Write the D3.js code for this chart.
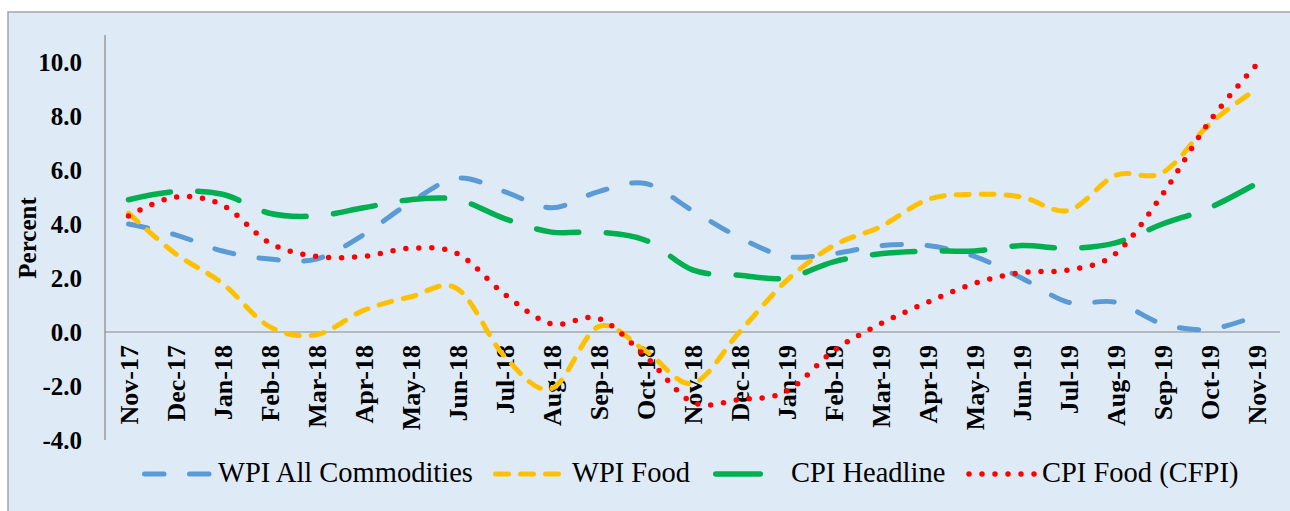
<!DOCTYPE html>
<meta charset="utf-8">
<style>
body { margin: 0; background: #fff; }
text { font-family: "Liberation Serif", "Times New Roman", serif; fill: #000; }
.tick-label { font-size: 25px; font-weight: bold; }
.xlab { font-size: 26px; }
.legend-label { font-size: 28.5px; }
</style>
<body>
<svg width="1290" height="511"></svg>
<script src="https://cdn.jsdelivr.net/npm/d3@7/dist/d3.min.js"></script>
<script>

var months = ["Nov-17","Dec-17","Jan-18","Feb-18","Mar-18","Apr-18","May-18","Jun-18","Jul-18","Aug-18",
	"Sep-18","Oct-18","Nov-18","Dec-18","Jan-19","Feb-19","Mar-19","Apr-19","May-19","Jun-19",
	"Jul-19","Aug-19","Sep-19","Oct-19","Nov-19"];

var wpiAll  = [4.0, 3.6, 3.0, 2.7, 2.7, 3.6, 4.8, 5.7, 5.2, 4.6, 5.2, 5.5, 4.5, 3.5, 2.8, 2.9, 3.2, 3.2, 2.8, 2.0, 1.1, 1.1, 0.3, 0.1, 0.6];
var wpiFood = [4.4, 2.9, 1.8, 0.2, -0.1, 0.8, 1.3, 1.6, -0.9, -2.1, 0.2, -0.7, -1.9, 0.0, 1.9, 3.2, 3.9, 4.9, 5.1, 5.0, 4.5, 5.8, 5.9, 7.7, 9.0];
var cpiHead = [4.9, 5.2, 5.1, 4.4, 4.3, 4.6, 4.9, 4.9, 4.2, 3.7, 3.7, 3.4, 2.3, 2.1, 2.0, 2.6, 2.9, 3.0, 3.0, 3.2, 3.1, 3.3, 4.0, 4.6, 5.5];
var cfpi    = [4.3, 5.0, 4.7, 3.3, 2.8, 2.8, 3.1, 2.9, 1.4, 0.3, 0.5, -0.9, -2.6, -2.5, -2.2, -0.7, 0.3, 1.1, 1.8, 2.2, 2.3, 2.9, 5.1, 7.8, 9.9];

var yTicks = [-4, -2, 0, 2, 4, 6, 8, 10];
var seriesNames = ["WPI All Commodities", "WPI Food", "CPI Headline", "CPI Food (CFPI)"];

// look of each series: colour, width, dash
var styles = [
	{color: "#5b9bd5", width: 5,   dash: "19.5,25.5"},
	{color: "#ffc000", width: 5,   dash: "13,12"},
	{color: "#00b050", width: 5.5, dash: "42.5,27.5"},
	{color: "#ff0000", width: 5.5, dash: "0,13"}
];
var allSeries = [wpiAll, wpiFood, cpiHead, cfpi];

var svg = d3.select("svg");

// chart frame
svg.append("rect")
	.attr("x", 8)
	.attr("y", 12)
	.attr("width", 1300)
	.attr("height", 520)
	.attr("fill", "#deebf7")
	.attr("stroke", "#a6a6a6")
	.attr("stroke-width", 1.5);

var x = d3.scaleBand()
	.domain(months)
	.range([105, 1280]);

var y = d3.scaleLinear()
	.domain([-4, 11])
	.range([440, 35]);

// y axis line and zero line
svg.append("line")
	.attr("x1", 105).attr("x2", 105)
	.attr("y1", y(11)).attr("y2", y(-4))
	.attr("stroke", "#878787").attr("stroke-width", 1.2);

svg.append("line")
	.attr("x1", 105).attr("x2", 1280)
	.attr("y1", y(0)).attr("y2", y(0))
	.attr("stroke", "#878787").attr("stroke-width", 1.2);

svg.selectAll(".ylab")
	.data(yTicks)
	.enter().append("text")
	.attr("class", "ylab tick-label")
	.attr("x", 82)
	.attr("y", function(d){ return y(d); })
	.attr("dy", "0.35em")
	.attr("text-anchor", "end")
	.text(function(d){ return d.toFixed(1); });

svg.selectAll(".xlab")
	.data(months)
	.enter().append("text")
	.attr("class", "xlab tick-label")
	.attr("text-anchor", "end")
	.attr("dy", "0.35em")
	.attr("transform", function(d){ return "translate(" + (x(d) + x.bandwidth()/2) + ",345) rotate(-90)"; })
	.text(function(d){ return d; });

svg.append("text")
	.attr("class", "tick-label")
	.attr("text-anchor", "middle")
	.attr("dy", "0.35em")
	.attr("transform", "translate(27,238) rotate(-90)")
	.text("Percent");

var line = d3.line()
	.x(function(d, i){ return x(months[i]) + x.bandwidth()/2; })
	.y(function(d){ return y(d); })
	.curve(d3.curveCardinal.tension(0));

allSeries.forEach(function(s, i){
	svg.append("path")
		.attr("d", line(s))
		.attr("fill", "none")
		.attr("stroke", styles[i].color)
		.attr("stroke-width", styles[i].width)
		.attr("stroke-dasharray", styles[i].dash)
		.attr("stroke-linecap", "round");
});

// legend
var legendItems = [
	{x1: 144.5, x2: 209.5, tx: 218},
	{x1: 495.5, x2: 560.5, tx: 572},
	{x1: 715.75, x2: 760.25, tx: 791},
	{x1: 969, x2: 1037, tx: 1042}
];

legendItems.forEach(function(it, i){
	svg.append("line")
		.attr("x1", it.x1).attr("x2", it.x2)
		.attr("y1", 474).attr("y2", 474)
		.attr("stroke", styles[i].color)
		.attr("stroke-width", styles[i].width)
		.attr("stroke-dasharray", i == 2 ? null : styles[i].dash)
		.attr("stroke-linecap", "round");
	svg.append("text")
		.attr("class", "legend-label")
		.attr("x", it.tx)
		.attr("y", 482)
		.text(seriesNames[i]);
});

</script>
</body>
